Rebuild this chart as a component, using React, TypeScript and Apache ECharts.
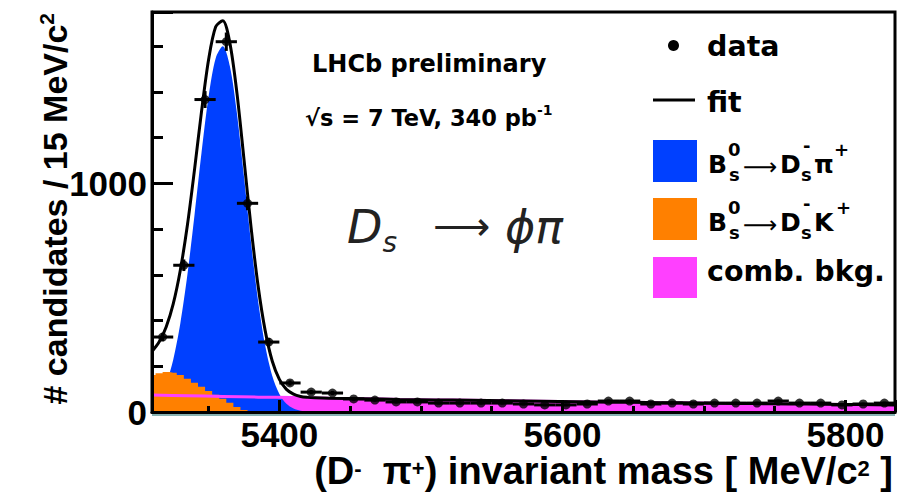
import React, { useEffect, useRef } from "react";
import * as echarts from "echarts";

// ---- axis ranges ----
const X_MIN = 5310;
const X_MAX = 5835;
const Y_MAX = 1750;
const BIN_WIDTH = 15;

// ---- data points (bin centres, counts) ----
const dataMass = [
  5317.5, 5332.5, 5347.5, 5362.5, 5377.5, 5392.5, 5407.5, 5422.5, 5437.5, 5452.5,
  5467.5, 5482.5, 5497.5, 5512.5, 5527.5, 5542.5, 5557.5, 5572.5, 5587.5, 5602.5,
  5617.5, 5632.5, 5647.5, 5662.5, 5677.5, 5692.5, 5707.5, 5722.5, 5737.5, 5752.5,
  5767.5, 5782.5, 5797.5, 5812.5, 5827.5,
];
const dataCounts = [
  328, 642, 1367, 1620, 913, 306, 127, 87, 83, 57,
  52, 44, 44, 39, 39, 39, 39, 35, 31, 31,
  35, 48, 48, 35, 39, 35, 39, 39, 39, 48,
  39, 39, 31, 35, 39,
];

// ---- Bs -> Ds pi signal component ----
const sigMass = [
  5310, 5315, 5320, 5325, 5330, 5335, 5340, 5345, 5350, 5355, 5360, 5365,
  5370, 5375, 5380, 5385, 5390, 5395, 5400, 5405, 5410, 5415, 5420, 5425,
];
const sigVals = [
  29, 63, 125, 229, 387, 600, 860, 1135, 1381, 1548, 1600, 1514,
  1307, 1029, 739, 485, 290, 158, 79, 36, 15, 6, 2, 0,
];

// ---- Bs -> Ds K component ----
const dskMass = [
  5310, 5315, 5320, 5325, 5330, 5335, 5340, 5345, 5350, 5355, 5360, 5365,
  5370, 5375, 5380, 5385, 5390,
];
const dskVals = [162, 170, 175, 172, 162, 146, 128, 110, 92, 76, 58, 40, 22, 9, 3, 0, 0];

// ---- combinatorial background ----
const combMass = [
  5310, 5335, 5360, 5385, 5410, 5435, 5460, 5485, 5510, 5535, 5560,
  5585, 5610, 5635, 5660, 5685, 5710, 5735, 5760, 5785, 5810, 5835,
];
const combVals = [74, 71, 68, 65, 63, 60, 58, 55, 53, 51, 49, 47, 45, 43, 41.5, 40, 38, 37, 35, 34, 32.5, 31];

// ---- total fit ----
const fitMass = [
  5310, 5315, 5320, 5325, 5330, 5335, 5340, 5345, 5350, 5355, 5360, 5365,
  5370, 5375, 5380, 5385, 5390, 5395, 5400, 5405, 5410, 5415, 5420, 5425,
  5435, 5460, 5485, 5510, 5535, 5560, 5585, 5610, 5635, 5660, 5685, 5710,
  5735, 5760, 5785, 5810, 5835,
];
const fitVals = [
  265, 306, 372, 473, 620, 817, 1058, 1315, 1542, 1685, 1712, 1615,
  1396, 1105, 808, 550, 355, 222, 143, 99, 78, 68, 64, 62,
  60, 58, 55, 53, 51, 49, 47, 45, 43, 41.5, 40, 38,
  37, 35, 34, 32.5, 31,
];

const xTicks = [5400, 5600, 5800];
const yTicks = [0, 1000];

const BLUE = "#0040ff";
const ORANGE = "#ff8000";
const PINK = "#ff40ff";
const SANS = "'Liberation Sans', Arial, sans-serif";
const WIDE = "'DejaVu Sans', sans-serif";

const zip = (xs: number[], ys: number[]) => xs.map((x, i) => [x, ys[i]]);

function t(x: number, y: number, text: string, fontSize: number, weight: string = "bold", extra: any = {}) {
  return {
    type: "text",
    x,
    y,
    z: 100,
    style: {
      text,
      fontSize,
      fontFamily: WIDE,
      fontWeight: weight,
      fill: "#000",
      align: "left",
      verticalAlign: "middle",
      ...extra,
    },
  };
}

function legendDecay(y0: number, last: string) {
  // B^0_s -> D^-_s X^+
  return [
    t(708, y0, "B", 25),
    t(728, y0 - 15, "0", 18, "bold", { lineHeight: 18 }),
    t(729, y0 + 10, "s", 18, "bold", { lineHeight: 16 }),
    t(743, y0 + 3, "⟶", 24, "normal"),
    t(780, y0, "D", 25, "bold", { lineHeight: 22 }),
    t(803, y0 - 19, "-", 18, "bold", { lineHeight: 12 }),
    t(801, y0 + 10, "s", 18, "bold", { lineHeight: 16 }),
    t(814, y0, last, 25),
    t(last === "K" ? 836 : 834, y0 - 15, "+", 18, "bold", { lineHeight: 18 }),
  ];
}

export default function App() {
  const ref = useRef<HTMLDivElement>(null);

  useEffect(() => {
    if (!ref.current) return;
    const chart = echarts.init(ref.current, undefined, { renderer: "svg" });

    const option: any = {
      animation: false,
      backgroundColor: "#fff",
      grid: {
        left: 152,
        top: 12,
        width: 743,
        height: 400,
        show: true,
        borderColor: "#000",
        borderWidth: 3,
        containLabel: false,
        outerBoundsMode: "none",
      },
      xAxis: {
        type: "value",
        min: X_MIN,
        max: X_MAX,
        minInterval: 200,
        maxInterval: 200,
        z: 10,
        axisLine: { show: true, onZero: false, lineStyle: { color: "#000", width: 3 } },
        axisTick: { show: true, inside: true, length: 12, lineStyle: { color: "#000", width: 3 } },
        minorTick: { show: true, splitNumber: 4, length: 6, lineStyle: { color: "#000", width: 3 } },
        axisLabel: {
          margin: 8,
          fontSize: 35,
          lineHeight: 28,
          fontFamily: SANS,
          fontWeight: "bold",
          color: "#000",
          formatter: (v: number) => (xTicks.includes(v) ? String(v) : ""),
        },
        splitLine: { show: false },
      },
      yAxis: {
        type: "value",
        min: 0,
        max: Y_MAX,
        minInterval: 1000,
        maxInterval: 1000,
        z: 10,
        axisLine: { show: true, lineStyle: { color: "#000", width: 3 } },
        axisTick: { show: true, inside: true, length: 21, lineStyle: { color: "#000", width: 3 } },
        minorTick: { show: true, splitNumber: 5, length: 11, lineStyle: { color: "#000", width: 3 } },
        axisLabel: {
          margin: 5,
          fontSize: 35,
          fontFamily: SANS,
          fontWeight: "bold",
          color: "#000",
          formatter: (v: number) => (yTicks.includes(v) ? String(v) : ""),
        },
        splitLine: { show: false },
      },
      series: [
        {
          name: "comb. bkg. fill",
          type: "line",
          data: zip(combMass, combVals),
          smooth: 0.3,
          showSymbol: false,
          lineStyle: { width: 0 },
          areaStyle: { color: PINK, opacity: 1 },
          z: 1,
        },
        {
          name: "Bs -> Ds pi",
          type: "line",
          data: zip(sigMass, sigVals),
          smooth: 0.3,
          showSymbol: false,
          lineStyle: { width: 0 },
          areaStyle: { color: BLUE, opacity: 1 },
          z: 2,
        },
        {
          name: "Bs -> Ds K",
          type: "line",
          data: zip(dskMass, dskVals),
          step: "middle",
          showSymbol: false,
          lineStyle: { width: 0 },
          areaStyle: { color: ORANGE, opacity: 1 },
          z: 3,
        },
        {
          name: "comb. bkg.",
          type: "line",
          data: zip(combMass, combVals),
          smooth: 0.3,
          showSymbol: false,
          lineStyle: { width: 3, color: PINK },
          z: 4,
        },
        {
          name: "fit",
          type: "line",
          data: zip(fitMass, fitVals),
          smooth: 0.3,
          showSymbol: false,
          lineStyle: { width: 3, color: "#000" },
          z: 5,
        },
        {
          name: "errors",
          type: "custom",
          data: dataMass.map((m, i) => [m, dataCounts[i], Math.sqrt(dataCounts[i])]),
          encode: { x: 0, y: 1 },
          z: 6,
          renderItem: (_params: any, api: any) => {
            const x = api.value(0);
            const y = api.value(1);
            const e = api.value(2);
            const h0 = api.coord([x - BIN_WIDTH / 2, y]);
            const h1 = api.coord([x + BIN_WIDTH / 2, y]);
            const v0 = api.coord([x, y - e]);
            const v1 = api.coord([x, y + e]);
            const st = { stroke: "#000", lineWidth: 3 };
            return {
              type: "group",
              children: [
                { type: "line", shape: { x1: h0[0], y1: h0[1], x2: h1[0], y2: h1[1] }, style: st },
                { type: "line", shape: { x1: v0[0], y1: v0[1], x2: v1[0], y2: v1[1] }, style: st },
              ],
            };
          },
        },
        {
          name: "data",
          type: "scatter",
          data: zip(dataMass, dataCounts),
          symbol: "circle",
          symbolSize: 9,
          itemStyle: { color: "#000" },
          z: 7,
        },
      ],
      graphic: [
        // faint line under the x axis
        { type: "line", z: 1, shape: { x1: 152, y1: 415, x2: 895, y2: 415 }, style: { stroke: "#5f9a9a", lineWidth: 1.5 } },
        // axis titles
        {
          type: "text",
          x: 55,
          y: 13,
          rotation: Math.PI / 2,
          z: 100,
          style: {
            text: "{m|# candidates / 15 MeV/c}{s|2}",
            align: "right",
            verticalAlign: "middle",
            fill: "#000",
            rich: {
              m: { fontSize: 34, fontFamily: SANS, fontWeight: "bold", lineHeight: 38, verticalAlign: "middle" },
              s: { fontSize: 21, fontFamily: SANS, fontWeight: "bold", lineHeight: 24, verticalAlign: "top" },
            },
          },
        },
        {
          type: "text",
          x: 893,
          y: 471,
          z: 100,
          style: {
            text: "{m|(D}{s|-}{m|  π}{s|+}{m|) invariant mass [ MeV/c}{s|2}{m| ]}",
            align: "right",
            verticalAlign: "middle",
            fill: "#000",
            rich: {
              m: { fontSize: 38, fontFamily: SANS, fontWeight: "bold", lineHeight: 28, verticalAlign: "middle" },
              s: { fontSize: 22, fontFamily: SANS, fontWeight: "bold", lineHeight: 16, verticalAlign: "top" },
            },
          },
        },
        // LHCb labels
        t(312, 64, "LHCb preliminary", 24),
        {
          type: "text",
          x: 305,
          y: 118,
          z: 100,
          style: {
            text: "{m|√s = 7 TeV, 340 pb}{s|-1}",
            align: "left",
            verticalAlign: "middle",
            fill: "#000",
            rich: {
              m: { fontSize: 22.5, fontFamily: WIDE, fontWeight: "bold", lineHeight: 30, verticalAlign: "middle" },
              s: { fontSize: 14, fontFamily: WIDE, fontWeight: "bold", lineHeight: 16, verticalAlign: "top" },
            },
          },
        },
        // D_s -> phi pi
        {
          type: "text",
          x: 347,
          y: 227,
          z: 100,
          style: {
            text: "{m|D}{s|s}",
            align: "left",
            verticalAlign: "middle",
            fill: "#222",
            rich: {
              m: { fontSize: 46, fontFamily: WIDE, fontWeight: 200, fontStyle: "italic", lineHeight: 58, verticalAlign: "middle" },
              s: { fontSize: 28, fontFamily: WIDE, fontWeight: 200, fontStyle: "italic", lineHeight: 28, verticalAlign: "bottom" },
            },
          },
        },
        t(433, 226, "⟶", 40, "200", { fill: "#222" }),
        t(505, 227, "ϕπ", 46, "200", { fontStyle: "italic", fill: "#222" }),
        // legend
        { type: "circle", z: 100, shape: { cx: 673.5, cy: 45.5, r: 5.5 }, style: { fill: "#000" } },
        t(707, 46, "data", 28.5),
        { type: "line", z: 100, shape: { x1: 653, y1: 100, x2: 695, y2: 100 }, style: { stroke: "#000", lineWidth: 3 } },
        t(707, 102, "fit", 28.5),
        { type: "rect", z: 100, shape: { x: 653, y: 140, width: 44, height: 42 }, style: { fill: BLUE } },
        ...legendDecay(164, "π"),
        { type: "rect", z: 100, shape: { x: 653, y: 198, width: 44, height: 42 }, style: { fill: ORANGE } },
        ...legendDecay(222, "K"),
        { type: "rect", z: 100, shape: { x: 653, y: 257, width: 44, height: 41 }, style: { fill: PINK } },
        t(707, 271, "comb. bkg.", 28.5),
      ],
    };

    chart.setOption(option);
    return () => chart.dispose();
  }, []);

  return (
    <div
      ref={ref}
      style={{ position: "absolute", left: 0, top: 0, width: 913, height: 492, background: "#fff" }}
    />
  );
}
